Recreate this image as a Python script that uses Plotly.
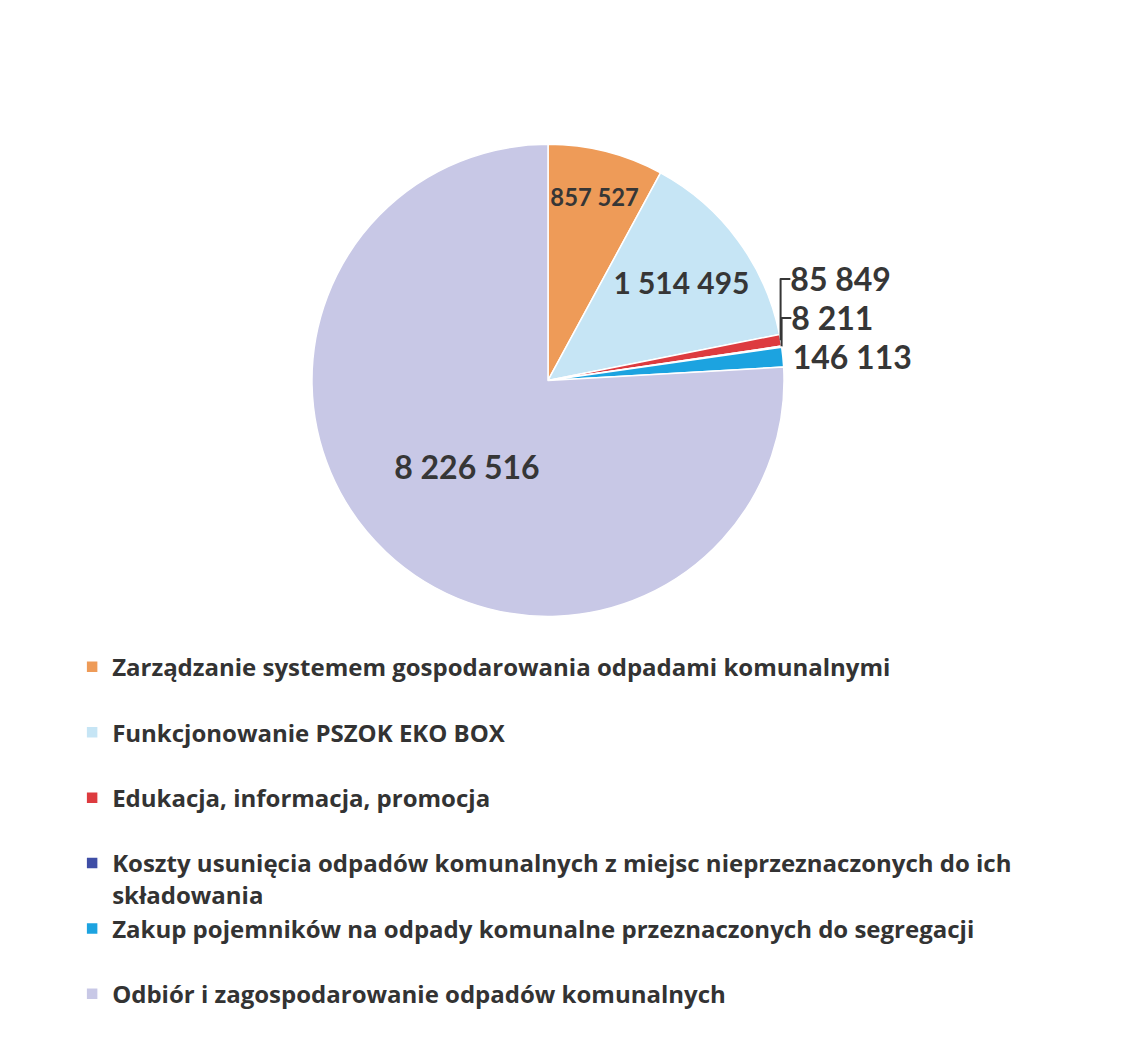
import plotly.graph_objects as go

categories = [
    "Zarządzanie systemem gospodarowania odpadami komunalnymi",
    "Funkcjonowanie PSZOK EKO BOX",
    "Edukacja, informacja, promocja",
    "Koszty usunięcia odpadów komunalnych z miejsc nieprzeznaczonych do ich<br>składowania",
    "Zakup pojemników na odpady komunalne przeznaczonych do segregacji",
    "Odbiór i zagospodarowanie odpadów komunalnych",
]
values = [857527, 1514495, 85849, 8211, 146113, 8226516]
colors = ["#EE9B58", "#C6E5F5", "#DD3B3F", "#3F4EA6", "#1CA3E0", "#C8C8E6"]
text_positions = ["inside", "inside", "outside", "outside", "outside", "inside"]

legend_labels = [c if "<br>" in c else c + "<br> " for c in categories]

fig = go.Figure()
fig.add_trace(go.Pie(
    labels=legend_labels,
    values=values,
    sort=False,
    direction="clockwise",
    rotation=0,
    marker=dict(colors=colors, line=dict(color="white", width=1.5)),
    texttemplate="%{value:,}",
    textposition=text_positions,
    textfont=dict(family="Lato", size=32, color="#363636", weight="bold"),
    insidetextorientation="horizontal",
    domain=dict(x=[0.17, 0.79], y=[0.42, 0.87]),
    hoverinfo="label+value",
))

fig.update_layout(
    width=1134, height=1049,
    paper_bgcolor="white", plot_bgcolor="white",
    separators=", ",
    margin=dict(l=0, r=0, t=0, b=0),
    showlegend=True,
    legend=dict(
        x=0.057, y=0.393, xanchor="left", yanchor="top",
        font=dict(family="Open Sans", size=24, color="#333333", weight="bold"),
        valign="top",
        bgcolor="rgba(0,0,0,0)",
    ),
)

fig.write_html("out.html")
